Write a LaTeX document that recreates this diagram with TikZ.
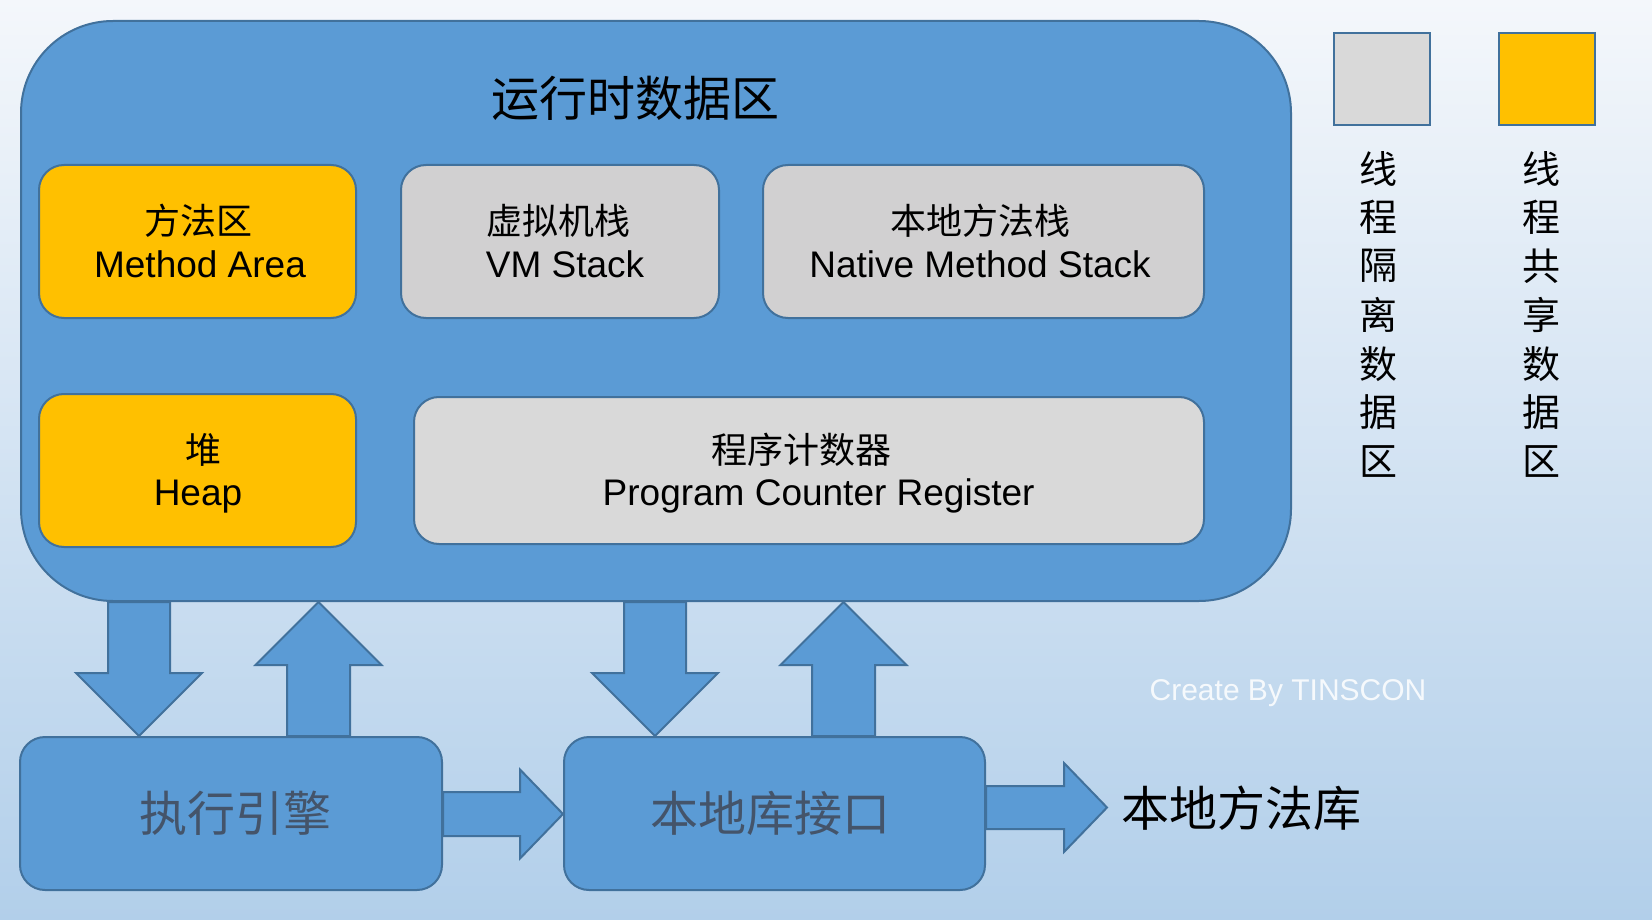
\documentclass[tikz,border=0pt]{standalone}
\usepackage{fontspec}
\setmainfont{Liberation Sans}
\newfontfamily\cjk{Noto Sans CJK SC}
\usetikzlibrary{calc}
\definecolor{acc}{HTML}{5B9BD5}
\definecolor{bord}{HTML}{41719C}
\definecolor{orng}{HTML}{FFC000}
\definecolor{gry}{HTML}{D1D0D1}
\definecolor{gryb}{HTML}{D9D9D9}
\definecolor{txtb}{HTML}{44546A}
\definecolor{bgtop}{HTML}{F4F7FB}
\definecolor{bgbot}{HTML}{B2CFEA}
\pgfdeclarelayer{bg}
\pgfdeclarelayer{arrows}
\pgfsetlayers{bg,arrows,main}
\newcommand\darrow[3]{%
 \draw[blk] let \p1=(#1,0 |- #2.south), \p2=(#1,0 |- #3.north) in
 (\x1-31pt,\y1) -- (\x1+31pt,\y1) -- (\x1+31pt,\y2+63pt) -- (\x1+63pt,\y2+63pt) -- (\x1,\y2) -- (\x1-63pt,\y2+63pt) -- (\x1-31pt,\y2+63pt) -- cycle;}
\newcommand\uarrow[3]{%
 \draw[blk] let \p1=(#1,0 |- #2.south), \p2=(#1,0 |- #3.north) in
 (\x1,\y1) -- (\x1+63pt,\y1-63pt) -- (\x1+31.5pt,\y1-63pt) -- (\x1+31.5pt,\y2) -- (\x1-31.5pt,\y2) -- (\x1-31.5pt,\y1-63pt) -- (\x1-63pt,\y1-63pt) -- cycle;}
\newcommand\rarrow[4]{%
 \draw[blk] let \p1=(#2.east |- 0,#1), \p2=(#3 |- 0,#1) in
 (\x1,\y1+#4) -- (\x2-43pt,\y1+#4) -- (\x2-43pt,\y1+44.5pt) -- (\x2,\y1) -- (\x2-43pt,\y1-44.5pt) -- (\x2-43pt,\y1-#4) -- (\x1,\y1-#4) -- cycle;}
\begin{document}
\begin{tikzpicture}[x=1pt,y=-1pt,
  region/.style={draw=bord,line width=2pt,rounded corners=25pt,inner sep=0pt},
  blk/.style={draw=bord,line width=2pt,fill=acc,line join=miter},
  en/.style={anchor=base,inner sep=0pt,font=\fontsize{37}{40}\selectfont},
  cn/.style={anchor=center,inner sep=0pt,font=\fontsize{36}{40}\selectfont\cjk},
  big/.style={anchor=center,inner sep=0pt,font=\fontsize{48}{56}\selectfont\cjk},
  leg/.style={anchor=center,inner sep=0pt,font=\fontsize{38}{44}\selectfont\cjk},
]
\begin{pgfonlayer}{bg}
\shade[top color=bgtop,bottom color=bgbot] (0,0) rectangle (1652,920);
\end{pgfonlayer}
\useasboundingbox (0,0) rectangle (1652,920);

% runtime data area
\node[region,fill=acc,rounded corners=92pt,minimum width=1270pt,minimum height=580pt] (rt) at (656,311) {};
\node[big] (title) at (635,98) {运行时数据区};

\node[region,fill=orng,minimum width=317pt,minimum height=153pt] (ma) at (197.5,241.5) {};
\node[region,fill=gry,minimum width=318pt,minimum height=153pt] (vm) at (560,241.5) {};
\node[region,fill=gry,minimum width=441pt,minimum height=153pt] (nm) at (983.5,241.5) {};
\node[region,fill=orng,minimum width=317pt,minimum height=153pt] (hp) at (197.5,470.5) {};
\node[region,fill=gryb,minimum width=790pt,minimum height=147pt] (pc) at (809,470.5) {};

\node[cn] (macn) at (198,221) {方法区};
\node[en] (maen) at (200,277) {Method Area};
\node[cn] (vmcn) at (558,221) {虚拟机栈};
\node[en] (vmen) at (565,277) {VM Stack};
\node[cn] (nmcn) at (980,221) {本地方法栈};
\node[en] (nmen) at (980,277) {Native Method Stack};
\node[cn] (hpcn) at (203,450) {堆};
\node[en] (hpen) at (198,505) {Heap};
\node[cn] (pccn) at (801,450) {程序计数器};
\node[en] (pcen) at (818.6,505) {Program Counter Register};

% bottom blocks
\node[region,fill=acc,minimum width=422pt,minimum height=153pt] (eng) at (231,813.5) {};
\node[region,fill=acc,minimum width=421pt,minimum height=153pt] (nif) at (774.5,813.5) {};
\node[big,text=txtb] (engt) at (235,813) {执行引擎};
\node[big,text=txtb] (nift) at (770,813) {本地库接口};
\node[big,anchor=west,inner xsep=14pt] (lib) at (1107,808) {本地方法库};

% arrows
\begin{pgfonlayer}{arrows}
\darrow{139}{rt}{eng}
\uarrow{318.5}{rt}{eng}
\darrow{655}{rt}{nif}
\uarrow{843.5}{rt}{nif}
\rarrow{814}{eng}{nif.west}{22pt}
\rarrow{807.5}{nif}{lib.west}{21.5pt}
\end{pgfonlayer}

% watermark
\node[text=white,opacity=.85,inner sep=0pt,font=\fontsize{30}{34}\selectfont] (wm) at (1288,693) {Create By TINSCON};

% legend
\node[draw=bord,line width=2pt,fill=gryb,minimum width=96pt,minimum height=92pt,inner sep=0pt] (lg1) at (1382,79.5) {};
\node[draw=bord,line width=2pt,fill=orng,minimum width=96pt,minimum height=92pt,inner sep=0pt] (lg2) at (1546.5,79.5) {};
\foreach \c [count=\i] in {线,程,隔,离,数,据,区}
  \node[leg] (a\i) at (1378,{168.5+(\i-1)*48.8}) {\c};
\foreach \c [count=\i] in {线,程,共,享,数,据,区}
  \node[leg] (b\i) at (1541,{168.5+(\i-1)*48.8}) {\c};
\end{tikzpicture}
\end{document}
